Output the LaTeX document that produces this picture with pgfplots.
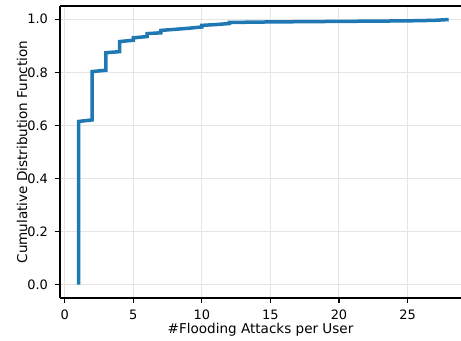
\documentclass[border=0pt]{standalone}
\usepackage{pgfplots}
\pgfplotsset{compat=1.18}
\usepackage{fontspec}
\setmainfont{DejaVu Sans}
\definecolor{mplblue}{HTML}{1F77B4}
\begin{document}
\begin{tikzpicture}
\begin{axis}[
  scale only axis,
  width=401bp, height=292bp,
  xmin=-0.35, xmax=28.9,
  ymin=-0.05, ymax=1.05,
  axis x line=box, axis y line=left,
  axis line style={black, line width=1.1bp, -},
  xtick={0,5,10,15,20,25},
  ytick={0,0.2,0.4,0.6,0.8,1.0},
  xtick pos=bottom, ytick pos=left,
  tick align=outside,
  major tick length=4.5bp,
  tick style={black, line width=1.1bp},
  /pgf/number format/fixed, /pgf/number format/fixed zerofill, /pgf/number format/precision=1,
  xticklabel={\pgfmathprintnumber[precision=0]{\tick}},
  /pgf/number format/assume math mode=true,
  ticklabel style={font=\fontsize{13}{15}\selectfont},
  xticklabel style={anchor=base, yshift=-17bp},
  yticklabel style={anchor=east, xshift=-4bp},
  label style={font=\fontsize{13.6}{16}\selectfont},
  grid=major,
  major grid style={line width=1bp, color=black!10},
  xlabel={\#Flooding Attacks per User},
  ylabel={Cumulative Distribution Function},
  xlabel style={at={(axis description cs:0.5,0)}, anchor=base, yshift=-35bp},
  ylabel style={at={(axis description cs:0,0.5)}, anchor=center, yshift=38bp},
  clip=false,
]
\addplot[mplblue, line width=3.5bp, line join=miter] coordinates {
(1,0) (1,0.615) (2,0.621) (2,0.803) (3,0.808) (3,0.874) (4,0.878) (4,0.916)
(5,0.921) (5,0.930) (6,0.935) (6,0.946) (7,0.949) (7,0.958) (8,0.962) (9,0.966)
(10,0.971) (10,0.977) (11,0.980) (12,0.984) (12,0.988) (15,0.990) (20,0.992)
(25,0.994) (27,0.996) (28,0.999)
};
\end{axis}
\pgfresetboundingbox
\path[use as bounding box] ([shift={(-60bp,-43bp)}]current axis.south west) rectangle ([shift={(0bp,6bp)}]current axis.north east);
\end{tikzpicture}
\end{document}
